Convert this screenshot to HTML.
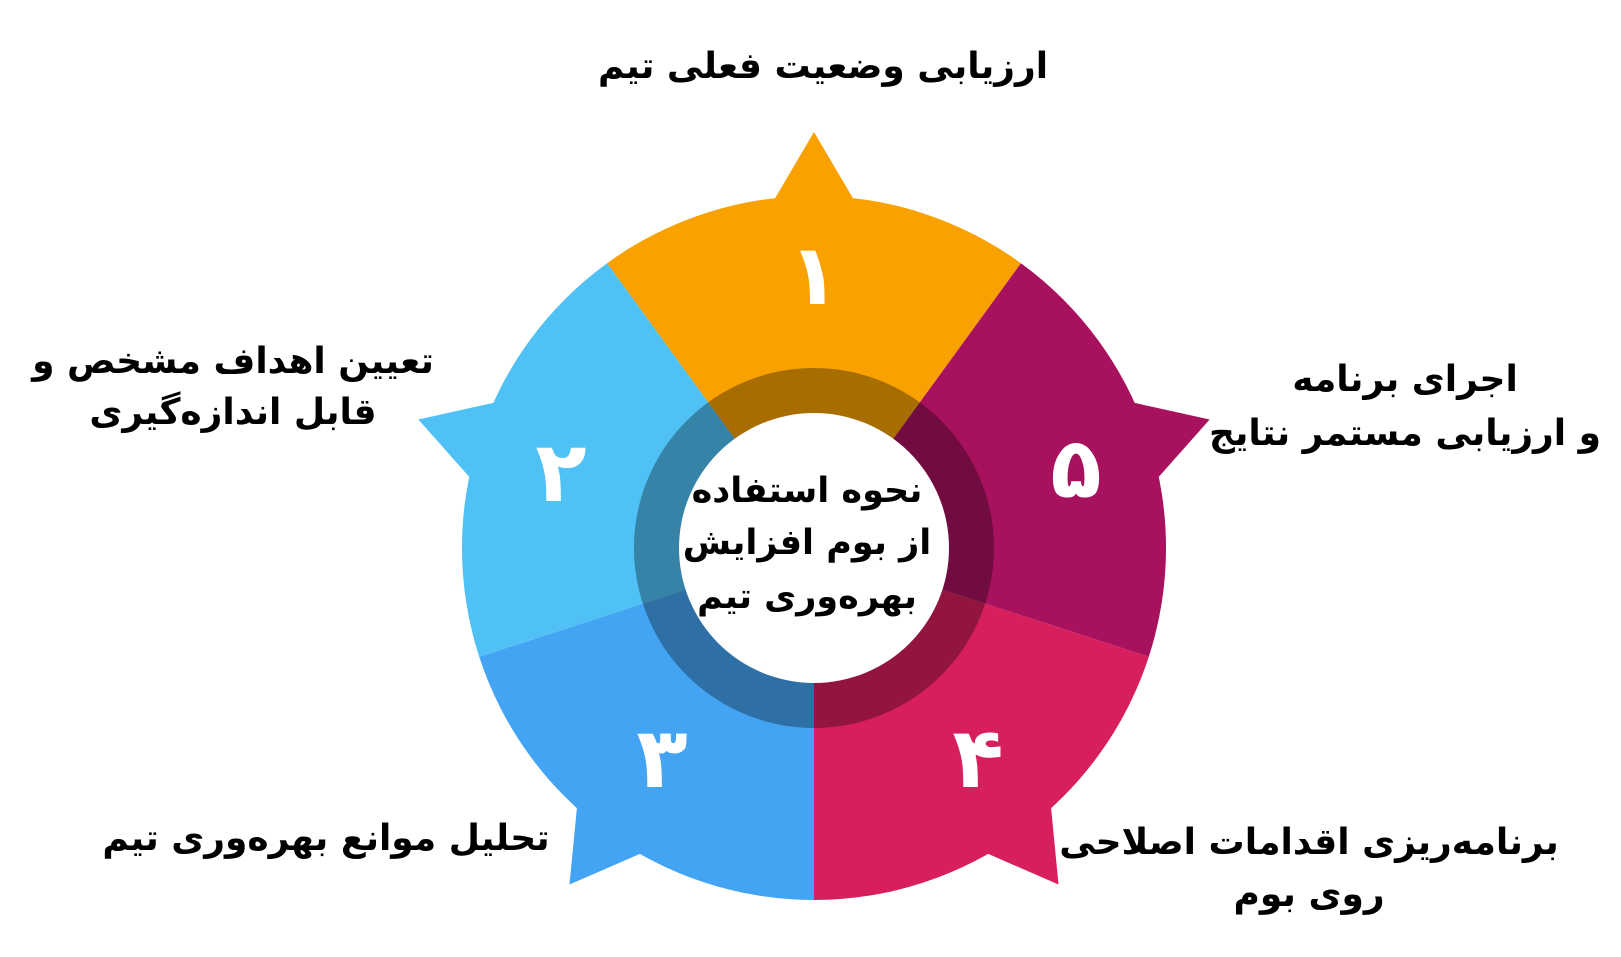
<!DOCTYPE html>
<html><head><meta charset="utf-8"><style>
html,body{margin:0;padding:0;background:#fff;width:1621px;height:957px;overflow:hidden;}
svg{display:block;}
text{font-family:"DejaVu Sans","Liberation Sans",sans-serif;font-weight:bold;}
</style></head><body>
<svg width="1621" height="957" viewBox="0 0 1621 957" xmlns="http://www.w3.org/2000/svg">
<defs>
<path id="seg" d="M0,0 L-206.9,-284.8 A352,352 0 0,1 206.9,-284.8 Z M-40,-348 L0,-416 L40,-348 Z"/>
</defs>
<g transform="translate(814,548)">
<use href="#seg" fill="#F8A100"/>
<use href="#seg" fill="#A8115E" transform="rotate(72)"/>
<use href="#seg" fill="#D81F5E" transform="rotate(144)"/>
<use href="#seg" fill="#44A4F4" transform="rotate(216)"/>
<use href="#seg" fill="#4FC1F5" transform="rotate(288)"/>
<circle r="157" fill="none" stroke="#000" stroke-opacity="0.32" stroke-width="46"/>
<circle r="135" fill="#fff"/>
</g>
<g fill="#fff" font-size="84" text-anchor="middle">
<text x="814" y="304">۱</text>
<text x="561" y="501">۲</text>
<text x="662" y="787">۳</text>
<text x="978" y="787">۴</text>
<text x="1076" y="497">۵</text>
</g>
<g fill="#000" font-size="36" text-anchor="middle" direction="rtl">
<text x="823" y="78">ارزیابی وضعیت فعلی تیم</text>
<text x="233" y="373">تعیین اهداف مشخص و</text>
<text x="233" y="424">قابل اندازه‌گیری</text>
<text x="1405" y="391">اجرای برنامه</text>
<text x="1405" y="445">و ارزیابی مستمر نتایج</text>
<text x="326" y="850">تحلیل موانع بهره‌وری تیم</text>
<text x="1309" y="854">برنامه‌ریزی اقدامات اصلاحی</text>
<text x="1309" y="906">روی بوم</text>
<g font-size="35">
<text x="807" y="502">نحوه استفاده</text>
<text x="807" y="554">از بوم افزایش</text>
<text x="807" y="608">بهره‌وری تیم</text>
</g>
</g>
</svg>
</body></html>
